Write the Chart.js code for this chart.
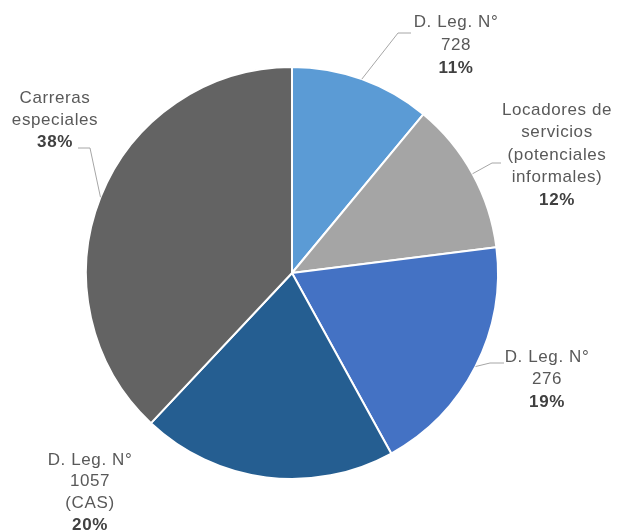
<!DOCTYPE html>
<html>
<head>
<meta charset="utf-8">
<script src="https://cdn.jsdelivr.net/npm/chart.js@4/dist/chart.umd.min.js"></script>
<style>
    html, body { margin: 0; padding: 0; background: #fff; }
    #wrap { width: 621px; height: 532px; position: relative; }
</style>
</head>
<body>
<div id="wrap"><canvas id="pie-chart" width="621" height="532"></canvas></div>
<script>
// data
const categories = [
    ['D. Leg. N°', '728'],
    ['Locadores de', 'servicios', '(potenciales', 'informales)'],
    ['D. Leg. N°', '276'],
    ['D. Leg. N°', '1057', '(CAS)'],
    ['Carreras', 'especiales']
]
const shares = [11, 12, 19, 20, 38]
const colors = ['#5b9bd5', '#a5a5a5', '#4472c4', '#255e91', '#636363']

// where each label block sits (center x, first line y, line step) and its leader elbow
const labelPlaces = [
    { x: 456, y: 22, step: 23, from: [411, 33], elbow: [398, 33] },
    { x: 557, y: 110, step: 22.5, from: [501, 163], elbow: [492, 163] },
    { x: 547, y: 357, step: 22.5, from: [504, 363], elbow: [490, 363] },
    { x: 90, y: 460, step: 21.7, from: null, elbow: null },
    { x: 55, y: 98, step: 22, from: [78, 148], elbow: [90, 148] }
]

const outsideLabels = {
    id: 'outsideLabels',
    afterDraw: chart => {
        const ctx = chart.ctx
        const arcs = chart.getDatasetMeta(0).data
        ctx.save()
        arcs.forEach((arc, i) => {
            const place = labelPlaces[i]
            const mid = (arc.startAngle + arc.endAngle) / 2
            const ex = arc.x + Math.cos(mid) * arc.outerRadius
            const ey = arc.y + Math.sin(mid) * arc.outerRadius

            if (place.from) {
                ctx.strokeStyle = '#a6a6a6'
                ctx.lineWidth = 1
                ctx.beginPath()
                ctx.moveTo(place.from[0], place.from[1])
                ctx.lineTo(place.elbow[0], place.elbow[1])
                ctx.lineTo(ex, ey)
                ctx.stroke()
            }

            ctx.textAlign = 'center'
            ctx.textBaseline = 'middle'
            ctx.letterSpacing = '0.6px'
            const lines = categories[i]
            lines.forEach((t, k) => {
                ctx.fillStyle = '#595959'
                ctx.font = '17px "Liberation Sans", Arial, sans-serif'
                ctx.fillText(t, place.x, place.y + k * place.step)
            })
            ctx.fillStyle = '#404040'
            ctx.font = 'bold 17px "Liberation Sans", Arial, sans-serif'
            ctx.fillText(shares[i] + '%', place.x, place.y + lines.length * place.step)
        })
        ctx.restore()
    }
}

new Chart(document.getElementById('pie-chart'), {
    type: 'pie',
    data: {
        labels: categories.map(c => c.join(' ')),
        datasets: [{
            data: shares,
            backgroundColor: colors,
            borderColor: '#ffffff',
            borderWidth: 2
        }]
    },
    options: {
        responsive: false,
        animation: false,
        layout: {
            padding: { left: 85, right: 122, top: 66, bottom: 52 }
        },
        plugins: {
            legend: { display: false },
            tooltip: { enabled: false }
        }
    },
    plugins: [outsideLabels]
})
</script>
</body>
</html>
